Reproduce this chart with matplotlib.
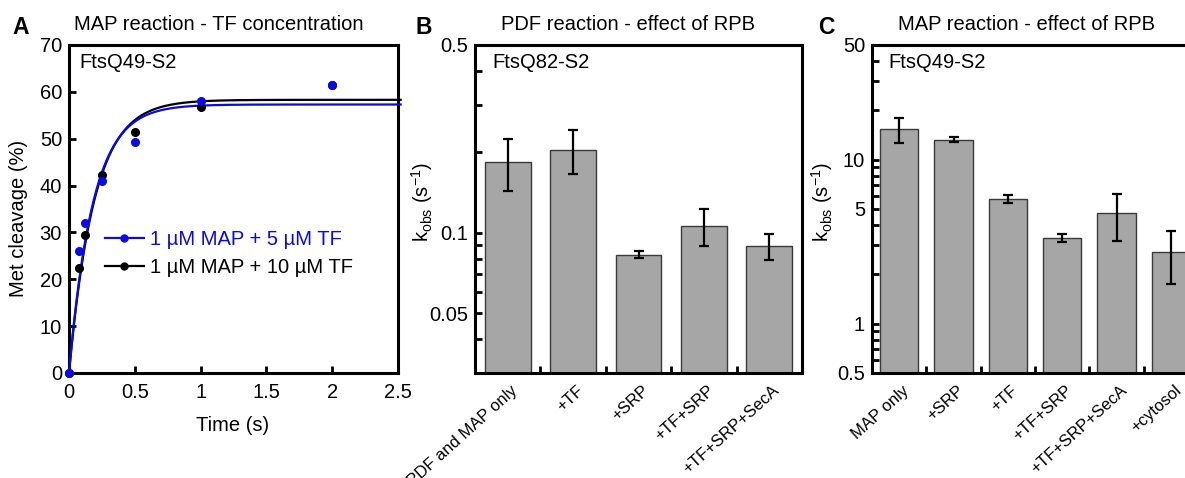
import numpy as np
import matplotlib
matplotlib.use('Agg')
import matplotlib.pyplot as plt
from matplotlib.ticker import NullFormatter
from matplotlib.transforms import ScaledTranslation

plt.rcParams['font.family'] = ['Liberation Sans', 'DejaVu Sans']
plt.rcParams['mathtext.fontset'] = 'custom'
plt.rcParams['mathtext.rm'] = 'Liberation Sans'
plt.rcParams['mathtext.it'] = 'Liberation Sans:italic'
plt.rcParams['font.size'] = 14.5

W, H = 1185, 478

# panel A: MAP cleavage time course at two TF concentrations
time_s = [0, 0.075, 0.125, 0.25, 0.5, 1, 2]
cleav_5tf = [0, 26.1, 32.1, 41.0, 49.4, 58.1, 61.5]
cleav_10tf = [0, 22.5, 29.4, 42.3, 51.4, 56.8, 61.4]
fit_amp = [57.3, 58.3]
fit_k = [5.5, 5.2]
series_labels = ['1 µM MAP + 5 µM TF', '1 µM MAP + 10 µM TF']

# panel B: PDF reaction rates
pdf_conds = ['PDF and MAP only', '+TF', '+SRP', '+TF+SRP', '+TF+SRP+SecA']
pdf_kobs = [0.183, 0.203, 0.0828, 0.106, 0.0889]
pdf_err = [0.040, 0.038, 0.0025, 0.017, 0.010]

# panel C: MAP reaction rates
map_conds = ['MAP only', '+SRP', '+TF', '+TF+SRP', '+TF+SRP+SecA', '+cytosol']
map_kobs = [15.3, 13.25, 5.78, 3.33, 4.71, 2.72]
map_err = [2.7, 0.5, 0.33, 0.2, 1.5, 0.97]

BLUE = '#0a0ae6'
BAR = '#a6a6a6'
SPINE_W = 2.2


def px(x, y):
    return x / W, 1 - y / H


def axes_at(left, right, top=45, bottom=373):
    return fig.add_axes([left / W, 1 - bottom / H, (right - left) / W, (bottom - top) / H])


def style(ax):
    for s in ax.spines.values():
        s.set_linewidth(SPINE_W)
    ax.tick_params(which='both', direction='in', width=2, length=5,
                   top=False, right=False)


fig = plt.figure(figsize=(W / 100, H / 100), dpi=100)

# ---- A ----
axA = axes_at(69, 398)
style(axA)
t = np.linspace(0, 2.52, 400)
colors = [BLUE, 'black']
for ys, amp, k, c, lab in zip([cleav_5tf, cleav_10tf], fit_amp, fit_k, colors, series_labels):
    axA.plot([], [], '-o', color=c, lw=1.6, ms=5, label=lab)
# black drawn first so the blue points sit on top where they overlap
for ys, amp, k, c, z in zip([cleav_10tf, cleav_5tf], fit_amp[::-1], fit_k[::-1], colors[::-1], [3, 4]):
    axA.plot(t, amp * (1 - np.exp(-k * t)), color=c, lw=1.6, clip_on=False, zorder=z)
    axA.plot(time_s, ys, 'o', color=c, ms=5.5, clip_on=False, zorder=z + 2)
axA.set_xlim(0, 2.5)
axA.set_ylim(0, 70)
axA.set_xticks([0, 0.5, 1, 1.5, 2, 2.5], labels=['0', '0.5', '1', '1.5', '2', '2.5'])
axA.set_yticks(range(0, 71, 10))
axA.tick_params(axis='x', pad=7)
axA.tick_params(axis='y', pad=5)
axA.set_xlabel('Time (s)')
axA.xaxis.set_label_coords(0.497, -0.13)
axA.set_ylabel('Met cleavage (%)')
axA.yaxis.set_label_coords(-0.125, 0.47)
leg = axA.legend(loc='center left', bbox_to_anchor=(0.108, 0.365), frameon=False,
                 handlelength=1.95, handletextpad=0.3, labelspacing=0.45,
                 borderaxespad=0, borderpad=0)
for txt, c in zip(leg.get_texts(), colors):
    txt.set_color(c)


def bar_panel(ax, conds, vals, errs):
    style(ax)
    x = np.arange(len(conds))
    ax.bar(x, vals, width=0.7, color=BAR, edgecolor='#3a3a3a', linewidth=1.0, zorder=2)
    ax.errorbar(x, vals, yerr=errs, fmt='none', ecolor='black', elinewidth=1.6,
                capsize=3.5, capthick=1.6, zorder=3)
    ax.set_yscale('log')
    ax.set_xlim(-0.5, len(conds) - 0.5)
    ax.set_xticks(x, labels=conds, rotation=42, ha='right', va='center',
                  rotation_mode='anchor', fontsize=12)
    ax.set_xticks(x[:-1] + 0.5, minor=True)
    ax.tick_params(axis='x', which='major', length=0, pad=11)
    ax.tick_params(axis='y', pad=5)
    shift = ScaledTranslation(8 / 100, 0, fig.dpi_scale_trans)
    for lbl in ax.get_xticklabels():
        lbl.set_transform(lbl.get_transform() + shift)


# ---- B ----
axB = axes_at(475, 802)
bar_panel(axB, pdf_conds, pdf_kobs, pdf_err)
axB.set_ylim(0.03, 0.5)
axB.set_yticks([0.05, 0.1, 0.5], labels=['0.05', '0.1', '0.5'])
axB.set_yticks([0.04, 0.06, 0.07, 0.08, 0.09, 0.2, 0.3, 0.4], minor=True)
axB.yaxis.set_minor_formatter(NullFormatter())
axB.set_ylabel(r'k$_{\mathrm{obs}}$ (s$^{\mathrm{-1}}$)')
axB.yaxis.set_label_coords(-0.122, 0.52)

# ---- C ----
axC = axes_at(872, 1198)
bar_panel(axC, map_conds, map_kobs, map_err)
axC.set_ylim(0.5, 50)
axC.set_yticks([0.5, 1, 5, 10, 50], labels=['0.5', '1', '5', '10', '50'])
axC.set_yticks([0.6, 0.7, 0.8, 0.9, 2, 3, 4, 6, 7, 8, 9, 20, 30, 40], minor=True)
axC.yaxis.set_minor_formatter(NullFormatter())
axC.set_ylabel(r'k$_{\mathrm{obs}}$ (s$^{\mathrm{-1}}$)')
axC.yaxis.set_label_coords(-0.113, 0.52)

# titles, panel letters and construct names
for (x, y), s in [((219, 25), 'MAP reaction - TF concentration'),
                  ((628, 25), 'PDF reaction - effect of RPB'),
                  ((1026, 25), 'MAP reaction - effect of RPB')]:
    fig.text(*px(x, y), s, ha='center', va='center', fontsize=14.5)
for (x, y), s in [((21, 27), 'A'), ((424, 27), 'B'), ((826, 27), 'C')]:
    fig.text(*px(x, y), s, ha='center', va='center', fontsize=16.5, fontweight='bold')
for (x, y), s in [((79, 63), 'FtsQ49-S2'), ((492, 63), 'FtsQ82-S2'), ((888, 63), 'FtsQ49-S2')]:
    fig.text(*px(x, y), s, ha='left', va='center', fontsize=14.5)

fig.savefig('out.png', dpi=100)
